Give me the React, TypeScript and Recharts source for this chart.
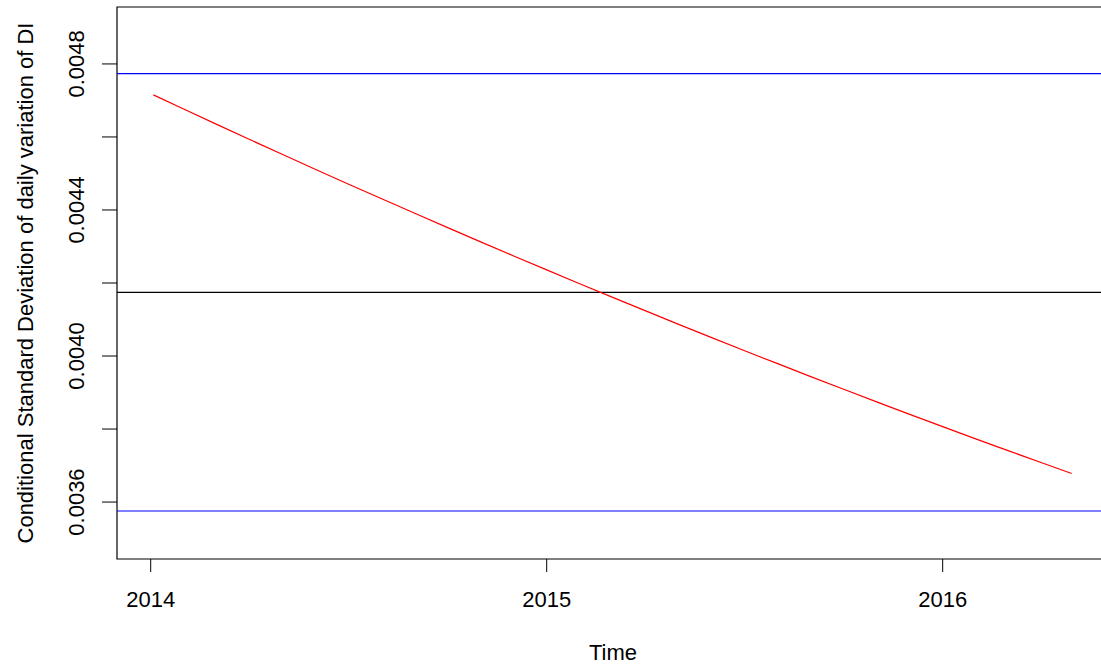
import {
  LineChart,
  Line,
  XAxis,
  YAxis,
  ReferenceLine,
  ReferenceArea,
} from "recharts";

// decimal year of each reading
const time = [
  2014.0066, 2014.0833, 2014.1667, 2014.25, 2014.3333, 2014.4167, 2014.5,
  2014.5833, 2014.6667, 2014.75, 2014.8333, 2014.9167, 2015.0, 2015.0833,
  2015.1667, 2015.25, 2015.3333, 2015.4167, 2015.5, 2015.5833, 2015.6667,
  2015.75, 2015.8333, 2015.9167, 2016.0, 2016.0833, 2016.1667, 2016.25,
  2016.3258,
];

// conditional standard deviation
const condSd = [
  0.0047154, 0.0046764, 0.0046346, 0.004593, 0.0045519, 0.0045111, 0.0044706,
  0.0044306, 0.0043909, 0.0043516, 0.0043127, 0.0042741, 0.0042359, 0.0041981,
  0.0041606, 0.0041235, 0.0040868, 0.0040505, 0.0040145, 0.003979, 0.0039437,
  0.0039089, 0.0038744, 0.0038403, 0.0038066, 0.0037732, 0.0037402, 0.0037076,
  0.0036783,
];

const meanLevel = 0.0041745;
const upperBand = 0.0047735;
const lowerBand = 0.0035755;

const xTicks = [2014, 2015, 2016];
const yTicks = [0.0036, 0.0038, 0.004, 0.0042, 0.0044, 0.0046, 0.0048];

const xDomain = [2013.9149, 2016.42];
const yDomain = [0.003444, 0.004956];

const FONT = "'Liberation Sans', Arial, Helvetica, sans-serif";

const data = time.map((t, i) => ({ t, sd: condSd[i] }));

function YTick(props: any) {
  const { x, y, payload } = props;
  const v = Math.round(payload.value * 10000);
  if (v % 4 !== 0) return null;
  return (
    <text
      transform={`translate(${x},${y}) rotate(-90)`}
      textAnchor="middle"
      fontSize={22}
      fontFamily={FONT}
      fill="#000"
    >
      {payload.value.toFixed(4)}
    </text>
  );
}

export default function App() {
  return (
    <div
      style={{
        position: "absolute",
        left: 0,
        top: 0,
        width: 1101,
        height: 666,
        overflow: "hidden",
        background: "#fff",
      }}
    >
      <LineChart
        width={1109}
        height={666}
        data={data}
        margin={{ top: 7, right: 0, bottom: 57, left: 0 }}
      >
        <XAxis
          dataKey="t"
          type="number"
          domain={xDomain}
          ticks={xTicks}
          axisLine={false}
          tickLine={{ stroke: "#000" }}
          tickSize={13}
          tickMargin={19}
          height={50}
          tick={{ fill: "#000", fontSize: 22, fontFamily: FONT }}
          allowDataOverflow
          label={{
            value: "Time",
            position: "bottom",
            offset: 35,
            style: { fill: "#000", fontSize: 22, fontFamily: FONT },
          }}
        />
        <YAxis
          type="number"
          domain={yDomain}
          ticks={yTicks}
          axisLine={false}
          tickLine={{ stroke: "#000" }}
          tickSize={15}
          tickMargin={18}
          width={117}
          tick={<YTick />}
          allowDataOverflow
          label={{
            value: "Conditional Standard Deviation of daily variation of DI",
            angle: -90,
            position: "center",
            dx: -33,
            style: { fill: "#000", fontSize: 22, fontFamily: FONT },
          }}
        />
        <ReferenceArea
          x1={xDomain[0]}
          x2={xDomain[1]}
          y1={yDomain[0]}
          y2={yDomain[1]}
          fill="none"
          fillOpacity={0}
          stroke="#000"
          strokeWidth={1.2}
        />
        <ReferenceLine y={upperBand} stroke="#0000ff" strokeWidth={1.2} />
        <ReferenceLine y={meanLevel} stroke="#000" strokeWidth={1.2} />
        <ReferenceLine y={lowerBand} stroke="#0000ff" strokeWidth={1.2} />
        <Line
          type="linear"
          dataKey="sd"
          stroke="#ff0000"
          strokeWidth={1.2}
          dot={false}
          isAnimationActive={false}
        />
      </LineChart>
    </div>
  );
}
